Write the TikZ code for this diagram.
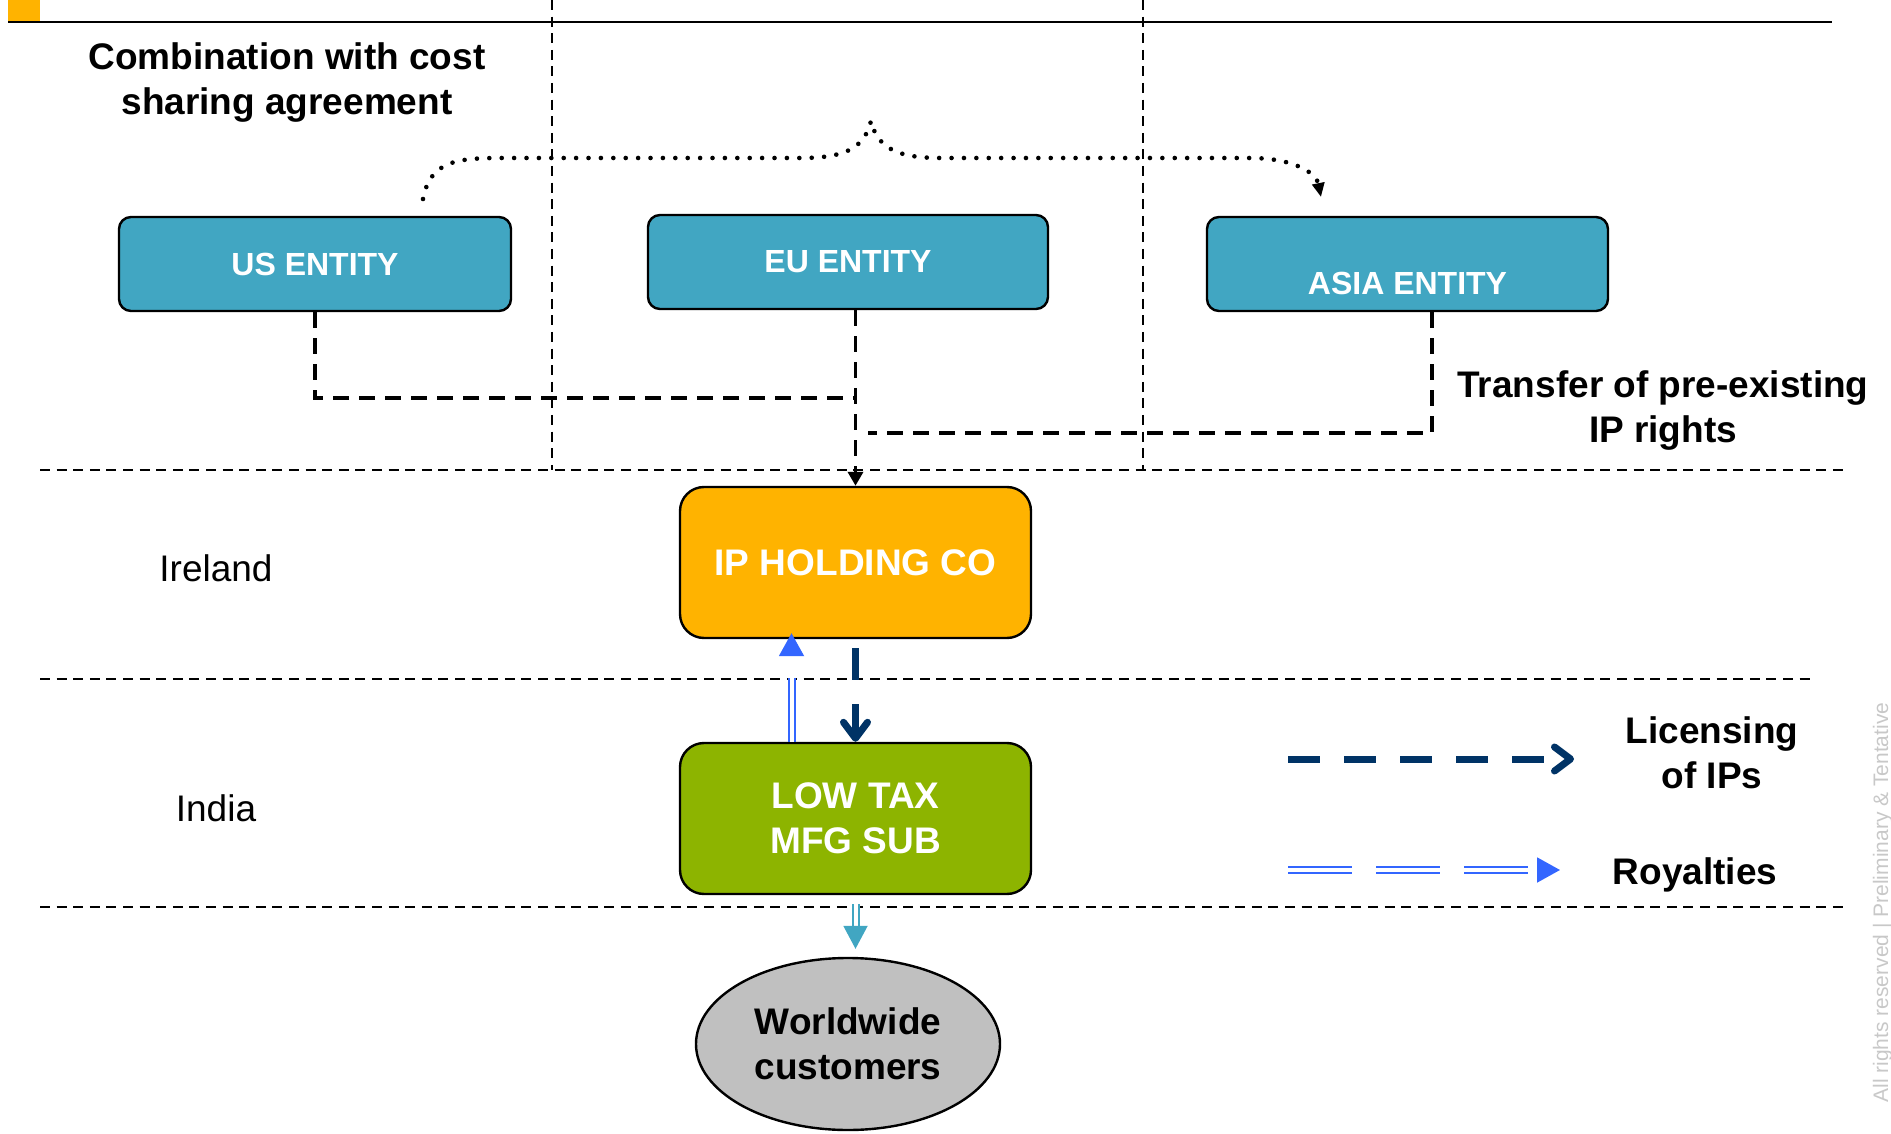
\documentclass[tikz,border=0pt]{standalone}
\usepackage{fontspec}
\setmainfont{Liberation Sans}
\usetikzlibrary{arrows.meta,shapes.geometric}
\definecolor{entityteal}{RGB}{65,166,194}
\definecolor{holdorange}{RGB}{255,179,0}
\definecolor{mfggreen}{RGB}{141,180,0}
\definecolor{licnavy}{RGB}{0,51,102}
\definecolor{royalblue}{RGB}{51,102,255}
\definecolor{custgray}{RGB}{192,192,192}
\definecolor{markgray}{RGB}{200,200,200}
\begin{document}
\begin{tikzpicture}[x=0.5pt,y=-0.5pt,
  entity/.style={draw=black, line width=1.2pt, fill=entityteal, rounded corners=6pt,
    minimum height=47pt, inner sep=0pt, text=white,
    font=\fontsize{16pt}{19pt}\selectfont\bfseries},
  hub/.style={draw=black, line width=1.2pt, rounded corners=12pt,
    minimum width=175.5pt, minimum height=75.5pt, inner sep=0pt, text=white,
    align=center, font=\fontsize{18.5pt}{22.5pt}\selectfont\bfseries},
  market/.style={ellipse, draw=black, line width=1.2pt, fill=custgray,
    minimum width=152pt, minimum height=86pt, inner sep=0pt, align=center,
    font=\fontsize{18.5pt}{22.5pt}\selectfont\bfseries},
  caption/.style={align=center, inner sep=0pt, font=\fontsize{18.5pt}{22.5pt}\selectfont\bfseries},
  region/.style={inner sep=0pt, font=\fontsize{18.5pt}{22.5pt}\selectfont},
  divider/.style={line width=1pt, dash pattern=on 5pt off 3.3pt},
  transfer/.style={line width=1.8pt, dash pattern=on 8pt off 5pt},
  transfertip/.style={-{Triangle[width=7.5pt,length=7pt]}},
  costshare/.style={line width=2.3pt, line cap=round, dash pattern=on 0pt off 6.2pt,
    -{Triangle[width=6pt,length=7pt]}},
  licensing/.style={licnavy, line width=3.5pt, dash pattern=on 16pt off 12pt,
    -{Straight Barb[length=8pt,width=12pt,round]}},
  royalty/.style={royalblue, line width=1pt, double=white, double distance=2pt,
    dash pattern=on 32pt off 12pt, -{Triangle[width=12.5pt,length=11.5pt]}},
  feed/.style={entityteal, line width=1pt, double=white, double distance=2pt,
    -{Triangle[width=12pt,length=11.5pt]}}
]
\useasboundingbox (0,0) rectangle (1891,1134);

% header bar
\fill[holdorange] (8,0) rectangle (40,22);
\draw[line width=1.2pt] (8,22) -- (1832,22);

% jurisdiction dividers
\draw[divider] (552,0) -- (552,470);
\draw[divider] (1143,0) -- (1143,470);
\draw[divider] (40,470) -- (1843,470);
\draw[divider] (40,679) -- (1813,679);
\draw[divider] (40,907) -- (1843,907);

% captions
\node[caption] (title) at (287,83) {Combination with cost\\sharing agreement};
\node[caption] (transfer) at (1663,411) {Transfer of pre-existing\\IP rights};
\node[region] (ireland) at (216,568) {Ireland};
\node[region] (india) at (216,808) {India};

% entities
\node[entity, minimum width=196pt] (us) at (315,264) {US ENTITY};
\node[entity, minimum width=200pt] (eu) at (848,262) {EU ENTITY};
\node[entity, minimum width=200.5pt, text height=30.5pt, text depth=0pt] (asia) at (1407.5,264) {ASIA ENTITY};

\node[hub, fill=holdorange] (ip) at (855.5,562.5) {IP HOLDING CO};
\node[hub, fill=mfggreen] (lowtax) at (855.5,818.5) {LOW TAX\\MFG SUB};
\node[market] (ww) at (848,1044) {Worldwide\\customers};

% cost sharing brace
\draw[costshare] (423,199) .. controls (430,162) and (455,158) .. (500,158)
  -- (800,158) .. controls (842,158) and (864,150) .. (871,121)
  .. controls (878,150) and (900,158) .. (942,158)
  -- (1250,158) .. controls (1292,158) and (1316,172) .. (1321,197);

% transfer of pre-existing IP rights
\coordinate (usjoin) at (856,398);
\coordinate (asiajoin) at (868,433);
\draw[transfer] (us.south) |- (usjoin);
\draw[transfer] ([xshift=12.25pt]asia.south) |- (asiajoin);
\draw[transfer, transfertip] (eu.south -| ip.north) -- (ip.north);

% licensing and royalty flows
\draw[licensing, dash phase=23.5pt] (ip.south) -- (lowtax.north);
\draw[royalty] ([xshift=-32pt]lowtax.north) -- ([xshift=-32pt,yshift=3pt]ip.south);
\draw[feed, shorten <=4.5pt, shorten >=4pt] (lowtax.south) -- (lowtax.south |- ww.north);

% legend
\coordinate (licA) at (1288,759);
\coordinate (licB) at (1574,759);
\coordinate (royA) at (1288,870);
\coordinate (royB) at (1560,870);
\draw[licensing] (licA) -- (licB);
\draw[royalty] (royA) -- (royB);
\node[caption] (liclabel) at (1712,753) {Licensing\\of IPs};
\node[caption] (roylabel) at (1695,875) {Royalties};

% footer mark
\node[rotate=90, anchor=base west, inner sep=0pt, text=markgray,
  font=\fontsize{10.5pt}{12pt}\selectfont] (mark) at (1888,1103)
  {All rights reserved | Preliminary \& Tentative};
\end{tikzpicture}
\end{document}
